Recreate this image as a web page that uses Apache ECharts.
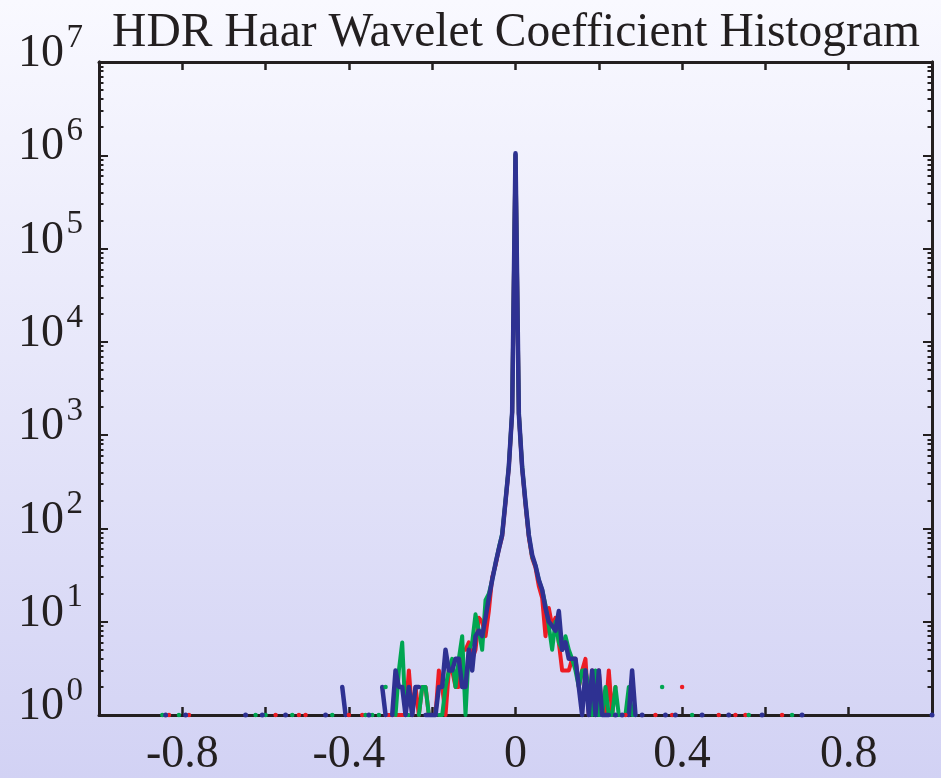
<!DOCTYPE html>
<html>
<head>
<meta charset="utf-8">
<script src="https://cdn.jsdelivr.net/npm/echarts@6/dist/echarts.min.js"></script>
<style>
  html, body { margin: 0; padding: 0; }
  #chart { width: 941px; height: 778px; }
</style>
</head>
<body>
<div id="chart"></div>
<script>
// Histogram of Haar wavelet detail coefficients for the R, G and B channels.
// Bins are 0.008 wide; dense counts cover bins -56..56, sparse single-count
// bins further out are listed separately. A count of 0 is an empty bin (gap).
const binWidth = 0.008;
const firstBin = -56;

const redCounts = [
  0, 0, 0, 0, 0, 0, 1, 0, 0, 0,
  1, 0, 0, 0, 0, 0, 0, 1, 1, 1,
  1, 1, 1, 1, 3, 1, 2, 1, 2, 2,
  1, 1, 1, 3, 2, 1, 3, 3, 2, 2,
  5, 5, 6, 4, 5, 11, 10, 7, 13, 30,
  40, 60, 82, 190, 450, 1750, 1000000,
  1700, 440, 180, 80, 48, 38, 24, 18, 7, 14,
  9, 11, 6, 3, 3, 3, 4, 4, 2, 3,
  4, 1, 3, 2, 3, 1, 1, 3, 1, 2,
  0, 0, 1, 0, 0, 0, 0, 0, 0, 0,
  0, 1, 0, 0, 0, 0, 1, 0, 0, 2,
  0, 0, 0, 0, 0, 0
];
const greenCounts = [
  0, 1, 0, 0, 0, 0, 0, 0, 0, 0,
  0, 1, 0, 1, 0, 1, 0, 2, 0, 0,
  1, 3, 6, 1, 1, 0, 0, 1, 2, 2,
  1, 1, 0, 1, 1, 2, 3, 4, 2, 4,
  7, 1, 5, 6, 12, 8, 5, 17, 20, 28,
  42, 62, 88, 200, 470, 1800, 1020000,
  1720, 455, 190, 85, 50, 40, 28, 22, 15, 9,
  5, 10, 6, 5, 7, 5, 4, 3, 2, 3,
  3, 2, 1, 3, 1, 1, 2, 1, 1, 2,
  1, 1, 1, 2, 1, 1, 0, 0, 0, 0,
  0, 0, 0, 2, 0, 0, 0, 0, 0, 0,
  0, 0, 1, 0, 0, 0
];
const blueCounts = [
  0, 0, 0, 0, 2, 1, 0, 0, 0, 0,
  0, 0, 1, 0, 0, 0, 2, 1, 0, 1,
  3, 2, 2, 1, 2, 1, 2, 2, 0, 1,
  1, 1, 1, 2, 2, 5, 3, 3, 4, 4,
  2, 2, 5, 3, 7, 8, 7, 11, 18, 28,
  42, 60, 85, 195, 460, 1780, 1050000,
  1700, 450, 190, 85, 52, 40, 28, 22, 14, 10,
  9, 8, 13, 5, 6, 4, 4, 4, 2, 1,
  3, 1, 3, 1, 3, 1, 1, 1, 0, 1,
  0, 1, 0, 1, 3, 1, 0, 1, 0, 0,
  0, 0, 0, 0, 1, 0, 0, 1, 0, 0,
  0, 0, 0, 0, 0, 1
];

// Far-out bins holding a single coefficient
const redSingles = [-104, -98, -72, -65, -63, 61, 66, 69, 80];
const greenSingles = [-106, -101, -78, -75, -67, 70, 83];
const blueSingles = [-105, -99, -81, -76, -69, -57, 64, 74, 86, 125];

const xTickLabels = ['-0.8', '-0.4', '0', '0.4', '0.8'];
const yDecades = [1, 10, 100, 1000, 10000, 100000, 1000000, 10000000];

const ink = '#231f20';
const serif = "'Liberation Serif', 'Times New Roman', Times, serif";
const lastBin = 125;

function buildSeriesData(dense, singles) {
  const pts = [];
  for (let k = -lastBin; k <= lastBin; k++) {
    const i = k - firstBin;
    let c = (i >= 0 && i < dense.length) ? dense[i] : (singles.includes(k) ? 1 : 0);
    pts.push([k * binWidth, c > 0 ? c : null]);
  }
  return pts;
}

function isolatedFlags(pts) {
  return pts.map((p, i) => p[1] != null &&
    (i === 0 || pts[i - 1][1] == null) &&
    (i === pts.length - 1 || pts[i + 1][1] == null));
}

function lineSeries(name, color, width, dense, singles) {
  const data = buildSeriesData(dense, singles);
  const iso = isolatedFlags(data);
  return {
    name, type: 'line', data,
    xAxisIndex: 0, yAxisIndex: 0,
    clip: false,
    connectNulls: false,
    showSymbol: true, showAllSymbol: true,
    symbol: 'circle',
    symbolSize: (v, p) => iso[p.dataIndex] ? width + 0.5 : 0,
    itemStyle: { color },
    lineStyle: { color, width, cap: 'round', join: 'round' },
    emphasis: { disabled: true },
    silent: true
  };
}

const minorValues = [];
for (let d = 0; d < 7; d++) {
  for (let m = 2; m <= 9; m++) minorValues.push(m * Math.pow(10, d));
}

const axisLineStyle = { show: true, onZero: false, lineStyle: { color: ink, width: 3 } };

function xAxisDef(position, withLabels) {
  return {
    type: 'value', position, min: -1, max: 1, interval: 0.2,
    axisLine: axisLineStyle,
    axisTick: { show: true, inside: true, length: 8, lineStyle: { color: ink, width: 2.5 } },
    axisLabel: withLabels ? {
      show: true, margin: 17, color: ink, fontFamily: serif, fontSize: 46,
      formatter: v => {
        const s = (Math.round(v * 10) / 10).toString();
        return xTickLabels.includes(s) ? s : '';
      }
    } : { show: false },
    splitLine: { show: false }
  };
}

// label: null, 'base' (the "10") or 'exp' (the power, raised)
function yAxisDef(position, values, len, label) {
  let axisLabel = { show: false };
  if (label === 'base') {
    axisLabel = {
      show: true, margin: 35, customValues: yDecades, color: ink,
      fontFamily: serif, fontSize: 46, lineHeight: 16, verticalAlign: 'bottom',
      formatter: () => '10'
    };
  } else if (label === 'exp') {
    axisLabel = {
      show: true, margin: 16, customValues: yDecades, color: ink,
      fontFamily: serif, fontSize: 33, lineHeight: 48, verticalAlign: 'bottom',
      formatter: v => String(Math.round(Math.log10(v)))
    };
  }
  return {
    type: 'log', logBase: 10, position, min: 1, max: 1e7,
    axisLine: axisLineStyle,
    axisTick: { show: true, inside: true, length: len, customValues: values,
      lineStyle: { color: ink, width: 2 } },
    axisLabel,
    splitLine: { show: false },
    minorTick: { show: false }
  };
}

const chart = echarts.init(document.getElementById('chart'), null, { renderer: 'canvas' });
chart.setOption({
  animation: false,
  backgroundColor: {
    type: 'linear', x: 0, y: 0, x2: 0, y2: 1,
    colorStops: [{ offset: 0, color: '#f9f9ff' }, { offset: 1, color: '#d2d2f4' }]
  },
  title: {
    text: 'HDR Haar Wavelet Coefficient Histogram',
    left: 511, top: 5, textAlign: 'center',
    textStyle: { fontFamily: serif, fontWeight: 'normal', fontSize: 47.5, color: ink }
  },
  grid: { left: 99, right: 9, top: 62, bottom: 58, containLabel: false },
  xAxis: [xAxisDef('bottom', true), xAxisDef('top', false)],
  yAxis: [
    yAxisDef('left', yDecades, 9, 'base'),
    yAxisDef('left', minorValues, 4.5, 'exp'),
    yAxisDef('right', yDecades, 9, null),
    yAxisDef('right', minorValues, 4.5, null)
  ],
  series: [
    lineSeries('R', '#ed1c24', 4, redCounts, redSingles),
    lineSeries('G', '#00a651', 4, greenCounts, greenSingles),
    lineSeries('B', '#2e3192', 4.5, blueCounts, blueSingles)
  ]
});
</script>
</body>
</html>
